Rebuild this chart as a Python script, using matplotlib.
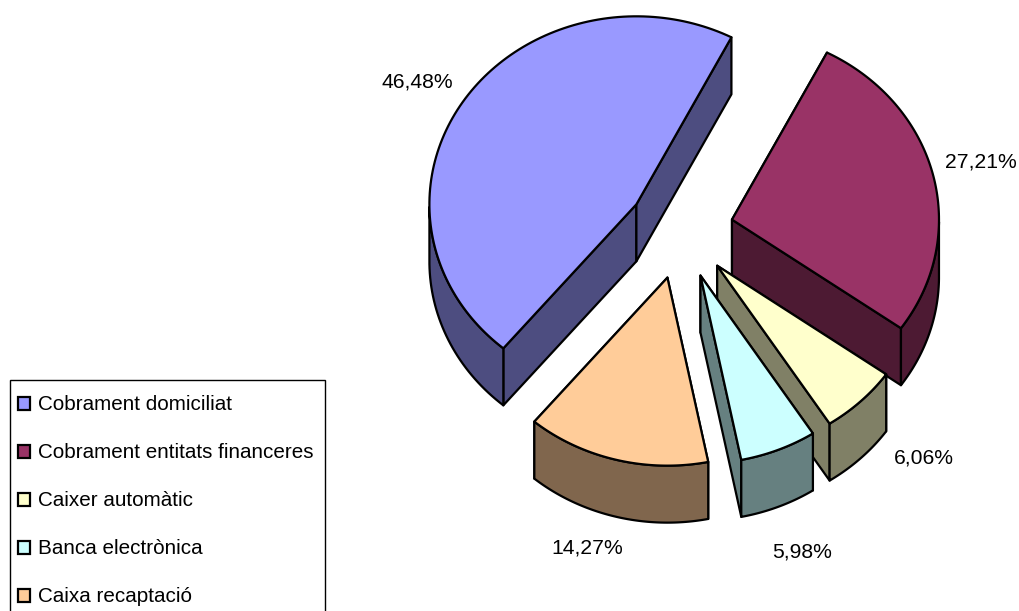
import numpy as np
import matplotlib
matplotlib.use('Agg')
import matplotlib.pyplot as plt
from matplotlib.patches import Polygon, Rectangle

categories = ['Cobrament domiciliat', 'Cobrament entitats financeres', 'Caixer automàtic',
              'Banca electrònica', 'Caixa recaptació']
values = [46.48, 27.21, 6.06, 5.98, 14.27]
labels = ['46,48%', '27,21%', '6,06%', '5,98%', '14,27%']
colors = ['#9999FF', '#993366', '#FFFFCC', '#CCFFFF', '#FFCC99']
sides = ['#4D4D80', '#4D1A33', '#808066', '#668080', '#80664D']
label_pos = [(417, 82), (981, 162), (924, 458), (802, 552), (587, 548)]

plt.rcParams['font.family'] = ['Liberation Sans', 'DejaVu Sans']

cx, cy = 680.5, 231
rx, ry = 207, 188
depth = 57
explode = 0.256
first_angle = 220  # clockwise from north

fig = plt.figure(figsize=(10.2, 6.11), dpi=100)
ax = fig.add_axes([0, 0, 1, 1])
ax.set_xlim(0, 1020)
ax.set_ylim(611, 0)
ax.axis('off')


def shape(pts, color, z):
    ax.add_patch(Polygon(pts, closed=True, facecolor=color, edgecolor='black', linewidth=1.6,
                         joinstyle='round', zorder=z))


a0 = first_angle
for i, v in enumerate(values):
    a1 = a0 + v * 3.6
    mid = np.radians((a0 + a1) / 2)
    ox = cx + explode * rx * np.sin(mid)
    oy = cy - explode * ry * np.cos(mid)
    t = np.radians(np.linspace(a0, a1, 120))
    x = ox + rx * np.sin(t)
    y = oy - ry * np.cos(t)
    z = i * 10 + 1
    # radial faces, hidden ones end up under the top
    for k in (0, -1):
        shape([(ox, oy), (x[k], y[k]), (x[k], y[k] + depth), (ox, oy + depth)], sides[i], z)
    # rim, only the part turned to the viewer
    front = np.cos(t) < 0
    if front.any():
        fx, fy = x[front], y[front]
        rim = np.vstack([np.column_stack([fx, fy]), np.column_stack([fx[::-1], fy[::-1] + depth])])
        shape(rim, sides[i], z + 1)
    shape(np.vstack([[(ox, oy)], np.column_stack([x, y])]), colors[i], z + 2)
    a0 = a1

for lab, (lx, ly) in zip(labels, label_pos):
    ax.text(lx, ly, lab, fontsize=15.2, ha='center', va='center', color='black', zorder=100)

# legend runs off the bottom edge of the picture
ax.add_patch(Rectangle((10, 380), 315, 260, facecolor='white', edgecolor='black', linewidth=1, zorder=101))
for i, name in enumerate(categories):
    row = 403 + 48 * i
    ax.add_patch(Rectangle((18, row - 6), 12, 13, facecolor=colors[i], edgecolor='black', linewidth=1.6,
                           zorder=102))
    ax.text(38, row + 1, name, fontsize=14.9, ha='left', va='center', color='black', zorder=102)

fig.savefig('out.png', dpi=100)
